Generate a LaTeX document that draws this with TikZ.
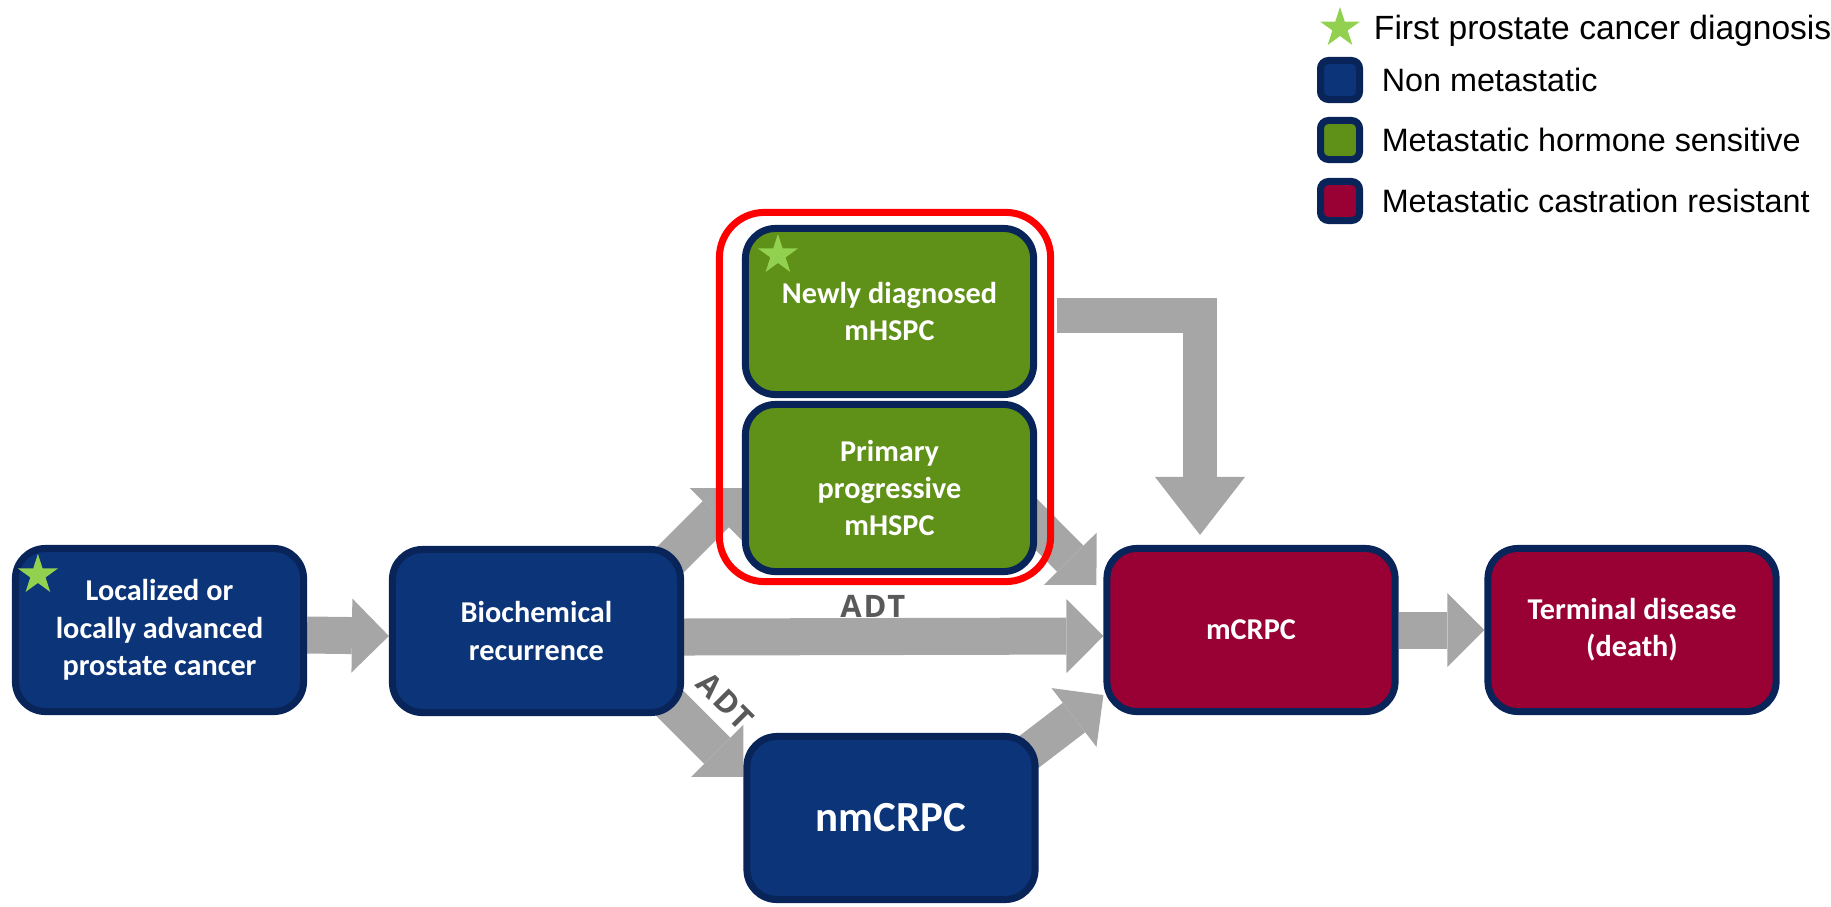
\documentclass[tikz,border=0pt]{standalone}
\usepackage{fontspec}
\setmainfont{Liberation Sans}
\newfontfamily\boxfont{Carlito}
\newfontfamily\adtfont[LetterSpace=6]{Open Sans}
\usetikzlibrary{arrows.meta,shapes.geometric,backgrounds,positioning}

\definecolor{navyfill}{HTML}{0B3479}
\definecolor{navyline}{HTML}{082458}
\definecolor{greenfill}{HTML}{5F9017}
\definecolor{crimson}{HTML}{990033}
\definecolor{arrowgray}{HTML}{A6A6A6}
\definecolor{adtgray}{HTML}{595959}
\definecolor{stargreen}{HTML}{92D050}

\begin{document}
\begin{tikzpicture}[x=0.01cm, y=-0.01cm,
    stage/.style={draw=navyline, line width=0.07cm, rounded corners=0.3cm,
      minimum width=2.88cm, minimum height=1.63cm, inner sep=0pt,
      align=center, text=white, font=\boxfont\bfseries\fontsize{8.6}{10.6}\selectfont},
    nonmet/.style={stage, fill=navyfill},
    hormone/.style={stage, fill=greenfill},
    resist/.style={stage, fill=crimson},
    diagstar/.style={star, star points=5, star point ratio=2.618, fill=stargreen,
      inner sep=0pt, minimum size=0.42cm},
    keybox/.style={draw=navyline, line width=0.07cm, rounded corners=0.08cm,
      minimum size=0.39cm, inner sep=0pt},
    legtext/.style={inner sep=0pt, text height=6.6pt, text depth=0pt,
      font=\fontsize{9.2}{11}\selectfont},
    flow/.style={draw=arrowgray, line width=0.37cm,
      -{Triangle[length=0.37cm, width=0.74cm, line width=0pt]}},
    adt/.style={inner sep=0pt, outer sep=0pt, text=adtgray,
      font=\adtfont\bfseries\fontsize{8.8}{10}\selectfont}
  ]

  \useasboundingbox (0,0) rectangle (1831,906);

  \node[nonmet] (loc) at (159.5,630) {Localized or\\locally advanced\\prostate cancer};
  \node[nonmet] (bcr) at (536.5,631) {Biochemical\\recurrence};
  \node[hormone, minimum height=1.66cm] (newly) at (889.5,311.5) {Newly diagnosed\\mHSPC};
  \node[hormone, minimum height=1.67cm] (prim) at (889.5,488) {Primary\\progressive\\mHSPC};
  \node[nonmet, font=\boxfont\bfseries\fontsize{12.2}{14}\selectfont] (nm) at (891,818) {nmCRPC};
  \node[resist] (mcrpc) at (1251,630) {mCRPC};
  \node[resist] (term) at (1632,630) {Terminal disease\\(death)};

  \node[draw=red, line width=0.07cm, rounded corners=0.45cm, minimum width=3.31cm,
    minimum height=3.69cm] (grp) at (885,397) {};

  \node[diagstar] (s1) at ([shift={(26,30)}]loc.north west) {};
  \node[diagstar] (s2) at ([shift={(36,30)}]newly.north west) {};

  \coordinate (cout) at (1057,315.5);

  \begin{scope}[on background layer]
    \draw[flow] ([yshift=-0.05cm]loc.east) -- ([yshift=-0.05cm]bcr.west);
    \draw[flow] ([yshift=-0.06cm]bcr.east) -- node[adt, pos=0.45, above=0.19cm] {ADT} ([yshift=-0.06cm]mcrpc.west);
    \draw[flow] ([shift={(-93,93)}]prim.west) -- (prim.west);
    \draw[flow] ([shift={(107,46)}]bcr.center) -- node[adt, pos=0.53, sloped, above=0.3cm] {ADT} ([yshift=0.41cm]nm.west);
    \draw[flow] ([shift={(-30,7)}]prim.east) -- ([shift={(-7,-45)}]mcrpc.west);
    \draw[flow] ([shift={(-15,-62)}]nm.east) -- ([yshift=-0.65cm]mcrpc.west);
    \draw[flow] (mcrpc.east) -- (term.west);
    \draw[flow, line width=0.34cm, line join=miter,
      -{Triangle[length=0.58cm, width=0.9cm, line width=0pt]}] (cout) -| ([shift={(-51,-10)}]mcrpc.north);
  \end{scope}

  \node[diagstar] (k0) at (1340,28) {};
  \node[legtext, right=0.21cm of k0, font=\fontsize{9.55}{11}\selectfont] {First prostate cancer diagnosis};
  \node[keybox, fill=navyfill] (k1) at (1340,80) {};
  \node[legtext, right=0.18cm of k1] {Non metastatic};
  \node[keybox, fill=greenfill] (k2) at (1340,140) {};
  \node[legtext, right=0.18cm of k2] {Metastatic hormone sensitive};
  \node[keybox, fill=crimson] (k3) at (1340,201) {};
  \node[legtext, right=0.18cm of k3] {Metastatic castration resistant};

\end{tikzpicture}
\end{document}
